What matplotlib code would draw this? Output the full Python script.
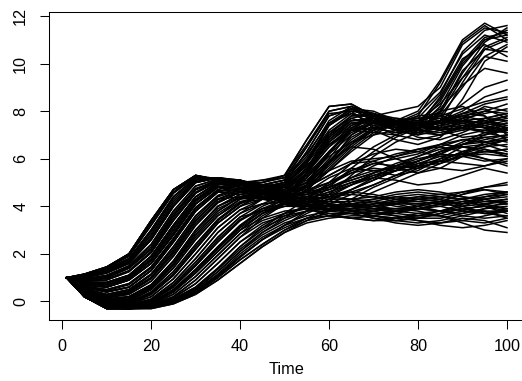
import matplotlib
matplotlib.use('Agg')
import matplotlib.pyplot as plt
import numpy as np

plt.rcParams['font.family'] = ['Liberation Sans', 'DejaVu Sans']

time = [1, 5, 10, 15, 20, 25, 30, 35, 40, 45, 50, 55, 60, 65, 70, 75, 80, 85, 90, 95, 100]

# curves that end high (third jump near t=90)
curves_high = [
    [1, 1.15, 1.45, 2.0, 3.4, 4.7, 5.3, 5.1, 4.9, 5.0, 5.3, 6.8, 8.2, 8.3, 7.8, 8.0, 8.2, 9.0, 10.8, 11.5, 11.3],
    [1, 1.0, 1.2, 1.6, 2.6, 4.0, 5.0, 5.2, 5.1, 4.8, 5.0, 6.3, 7.8, 8.1, 7.6, 7.5, 7.9, 8.8, 10.4, 11.2, 10.9],
    [1, 0.8, 0.8, 1.1, 1.9, 3.2, 4.4, 5.0, 5.1, 4.8, 4.9, 5.8, 7.4, 8.0, 7.9, 7.4, 7.3, 8.2, 9.9, 11.0, 11.4],
    [1, 0.6, 0.4, 0.6, 1.3, 2.5, 3.8, 4.6, 4.9, 4.6, 4.5, 5.3, 6.8, 7.6, 7.7, 7.2, 7.0, 7.6, 9.2, 10.6, 11.0],
    [1, 0.45, 0.1, 0.2, 0.7, 1.7, 3.0, 4.0, 4.5, 4.6, 4.6, 5.0, 6.0, 7.2, 7.8, 7.6, 7.1, 7.3, 8.5, 10.1, 10.7],
    [1, 0.9, 1.0, 1.4, 2.2, 3.6, 4.7, 5.1, 5.0, 4.7, 4.4, 4.6, 5.8, 7.0, 7.6, 7.4, 7.2, 8.0, 9.6, 10.9, 11.5],
    [1, 0.35, -0.1, -0.1, 0.3, 1.1, 2.2, 3.3, 4.0, 4.5, 4.9, 5.7, 6.6, 7.2, 7.1, 7.0, 7.4, 8.6, 10.2, 10.8, 10.3],
    [1, 1.1, 1.35, 1.8, 3.0, 4.4, 5.2, 5.2, 5.0, 5.1, 5.2, 6.5, 7.9, 8.0, 7.3, 7.1, 7.6, 8.3, 9.4, 10.3, 10.1],
    [1, 0.3, -0.2, -0.2, 0.0, 0.6, 1.5, 2.5, 3.4, 4.0, 4.4, 5.2, 6.1, 6.7, 7.0, 7.2, 7.5, 8.1, 9.1, 9.8, 9.6],
    [1, 0.7, 0.6, 0.9, 1.6, 2.8, 4.1, 4.8, 5.0, 5.0, 5.2, 6.2, 7.5, 7.9, 7.5, 7.4, 7.8, 9.2, 10.9, 11.6, 11.0],
    [1, 1.12, 1.4, 1.9, 3.2, 4.55, 5.25, 5.15, 4.95, 5.1, 5.3, 6.6, 8.0, 8.2, 7.7, 7.6, 8.0, 9.3, 11.0, 11.7, 11.2],
    [1, 0.95, 1.1, 1.5, 2.4, 3.8, 4.85, 5.15, 5.05, 4.9, 4.9, 5.9, 7.5, 8.1, 7.8, 7.4, 7.5, 8.5, 10.1, 11.1, 11.3],
    [1, 0.75, 0.7, 1.0, 1.75, 3.0, 4.25, 4.9, 5.05, 4.8, 4.7, 5.5, 7.0, 7.8, 7.9, 7.5, 7.3, 7.9, 9.4, 10.7, 11.1],
    [1, 0.42, 0.05, 0.1, 0.6, 1.55, 2.8, 3.8, 4.4, 4.6, 4.7, 5.3, 6.3, 7.1, 7.5, 7.4, 7.3, 7.8, 9.0, 10.3, 10.8],
    [1, 0.32, -0.12, -0.12, 0.2, 0.95, 2.0, 3.1, 3.85, 4.3, 4.6, 5.4, 6.5, 7.2, 7.3, 7.1, 7.2, 8.0, 9.7, 10.6, 10.5],
    [1, 0.92, 1.05, 1.45, 2.3, 3.7, 4.75, 5.1, 5.0, 4.9, 5.1, 6.1, 7.6, 8.2, 7.9, 7.6, 7.7, 8.7, 10.5, 11.4, 11.6],
    [1, 0.5, 0.18, 0.35, 0.95, 2.0, 3.3, 4.2, 4.6, 4.7, 4.8, 5.5, 6.7, 7.5, 7.6, 7.3, 7.4, 8.4, 10.0, 11.0, 11.2],
]

# curves that settle around 7-8 after the second jump
curves_upper = [
    [1, 1.15, 1.45, 2.0, 3.4, 4.7, 5.3, 5.1, 4.9, 5.0, 5.3, 6.8, 8.2, 8.3, 7.8, 7.6, 7.7, 7.8, 7.6, 7.3, 7.5],
    [1, 1.1, 1.35, 1.8, 3.0, 4.4, 5.2, 5.2, 5.0, 4.8, 5.0, 6.3, 7.8, 8.1, 7.6, 7.2, 7.3, 7.6, 7.9, 7.8, 7.2],
    [1, 1.0, 1.2, 1.6, 2.6, 4.0, 5.0, 5.2, 5.1, 4.9, 4.8, 5.8, 7.4, 8.0, 7.9, 7.4, 7.0, 7.2, 7.6, 8.0, 8.3],
    [1, 0.9, 1.0, 1.4, 2.2, 3.6, 4.7, 5.1, 5.0, 4.6, 4.4, 5.4, 6.9, 7.6, 7.7, 7.3, 6.9, 6.8, 7.1, 7.5, 7.7],
    [1, 0.8, 0.8, 1.1, 1.9, 3.2, 4.4, 5.0, 5.1, 4.8, 4.6, 5.0, 6.2, 7.3, 7.8, 7.6, 7.2, 7.0, 7.2, 7.4, 7.1],
    [1, 0.7, 0.6, 0.9, 1.6, 2.8, 4.1, 4.8, 5.0, 4.7, 4.4, 4.8, 5.9, 6.9, 7.4, 7.5, 7.3, 7.3, 7.5, 7.6, 7.4],
    [1, 0.6, 0.4, 0.6, 1.3, 2.5, 3.8, 4.6, 4.9, 4.6, 4.6, 5.2, 6.3, 7.2, 7.5, 7.2, 7.5, 8.0, 8.2, 7.8, 7.0],
    [1, 0.5, 0.2, 0.4, 1.0, 2.1, 3.4, 4.3, 4.7, 4.9, 5.1, 5.9, 7.1, 7.7, 7.4, 7.0, 6.8, 7.0, 7.4, 7.3, 6.8],
    [1, 0.45, 0.1, 0.2, 0.7, 1.7, 3.0, 4.0, 4.5, 4.6, 4.5, 4.9, 5.7, 6.6, 7.3, 7.6, 7.5, 7.2, 6.9, 7.0, 7.3],
    [1, 0.4, 0.0, 0.0, 0.5, 1.4, 2.6, 3.6, 4.3, 4.7, 4.8, 5.5, 6.6, 7.3, 7.2, 6.8, 6.6, 6.9, 7.7, 8.2, 8.0],
    [1, 0.35, -0.1, -0.1, 0.3, 1.1, 2.2, 3.3, 4.0, 4.5, 4.8, 5.6, 6.9, 7.7, 7.9, 7.7, 7.6, 7.8, 8.1, 8.4, 8.6],
    [1, 0.3, -0.15, -0.15, 0.1, 0.8, 1.8, 2.9, 3.7, 4.3, 4.7, 5.4, 6.5, 7.4, 7.8, 7.5, 7.3, 7.6, 8.3, 9.0, 9.3],
    [1, 0.25, -0.2, -0.25, -0.1, 0.4, 1.2, 2.1, 3.0, 3.7, 4.2, 4.9, 5.9, 6.8, 7.4, 7.7, 7.6, 7.4, 7.3, 7.5, 7.8],
    [1, 0.2, -0.25, -0.25, -0.15, 0.2, 0.9, 1.8, 2.7, 3.5, 4.1, 4.7, 5.5, 6.3, 7.0, 7.5, 7.8, 7.9, 7.7, 7.4, 7.2],
    [1, 0.2, -0.25, -0.3, -0.2, 0.1, 0.6, 1.4, 2.3, 3.1, 3.7, 4.3, 5.0, 5.8, 6.5, 7.0, 7.3, 7.5, 7.8, 8.0, 7.9],
    [1, 1.05, 1.28, 1.7, 2.8, 4.2, 5.1, 5.2, 5.05, 4.9, 5.1, 6.5, 8.0, 8.2, 7.7, 7.4, 7.5, 7.7, 7.8, 7.6, 7.3],
    [1, 0.85, 0.9, 1.25, 2.05, 3.4, 4.55, 5.05, 5.05, 4.8, 4.7, 5.6, 7.1, 7.8, 7.8, 7.4, 7.1, 7.0, 7.3, 7.7, 7.9],
    [1, 0.65, 0.5, 0.75, 1.45, 2.65, 3.95, 4.7, 4.95, 4.7, 4.5, 5.0, 6.3, 7.3, 7.7, 7.6, 7.4, 7.2, 7.3, 7.1, 6.9],
    [1, 0.55, 0.3, 0.5, 1.15, 2.3, 3.6, 4.45, 4.8, 4.7, 4.8, 5.6, 6.8, 7.5, 7.5, 7.2, 7.1, 7.4, 7.9, 8.1, 7.7],
    [1, 0.48, 0.15, 0.3, 0.85, 1.9, 3.2, 4.15, 4.6, 4.7, 4.9, 5.8, 7.0, 7.6, 7.6, 7.3, 7.4, 7.6, 7.6, 7.3, 7.5],
    [1, 0.38, -0.05, -0.05, 0.4, 1.25, 2.4, 3.45, 4.15, 4.5, 4.7, 5.3, 6.3, 7.2, 7.6, 7.6, 7.4, 7.5, 7.9, 8.3, 8.5],
    [1, 0.3, -0.18, -0.18, 0.05, 0.7, 1.65, 2.7, 3.55, 4.1, 4.5, 5.2, 6.2, 7.0, 7.5, 7.6, 7.5, 7.6, 8.0, 8.6, 8.9],
    [1, 0.28, -0.2, -0.22, -0.05, 0.5, 1.35, 2.3, 3.2, 3.9, 4.3, 4.9, 5.8, 6.6, 7.2, 7.5, 7.5, 7.3, 7.2, 7.4, 7.6],
    [1, 0.22, -0.22, -0.25, -0.12, 0.3, 1.05, 1.95, 2.85, 3.6, 4.1, 4.7, 5.5, 6.4, 7.1, 7.5, 7.6, 7.5, 7.3, 7.2, 7.4],
    [1, 0.2, -0.28, -0.3, -0.22, 0.05, 0.5, 1.25, 2.1, 2.9, 3.5, 4.1, 4.8, 5.6, 6.3, 6.9, 7.3, 7.5, 7.6, 7.7, 7.6],
    [1, 1.13, 1.42, 1.95, 3.3, 4.6, 5.3, 5.15, 4.9, 4.8, 5.0, 6.0, 7.4, 8.1, 8.0, 7.6, 7.4, 7.5, 7.7, 7.9, 8.1],
    [1, 0.78, 0.75, 1.05, 1.8, 3.1, 4.3, 4.95, 5.0, 4.8, 4.9, 5.9, 7.2, 7.9, 7.7, 7.3, 7.2, 7.4, 7.6, 7.5, 7.3],
    [1, 0.52, 0.25, 0.45, 1.1, 2.2, 3.5, 4.4, 4.7, 4.8, 5.0, 5.7, 6.7, 7.4, 7.7, 7.6, 7.5, 7.6, 7.4, 7.1, 7.2],
    [1, 0.36, -0.08, -0.08, 0.35, 1.15, 2.3, 3.4, 4.1, 4.5, 4.6, 5.0, 5.8, 6.7, 7.3, 7.4, 7.2, 7.1, 7.3, 7.7, 7.9],
    [1, 0.27, -0.2, -0.23, -0.07, 0.48, 1.3, 2.25, 3.15, 3.8, 4.3, 4.8, 5.6, 6.5, 7.2, 7.6, 7.7, 7.7, 7.5, 7.3, 7.1],
    [1, 0.2, -0.3, -0.3, -0.27, -0.02, 0.38, 1.05, 1.85, 2.6, 3.2, 3.8, 4.5, 5.3, 6.1, 6.7, 7.1, 7.3, 7.4, 7.6, 7.8],
]

# curves that drift slowly upwards
curves_mid = [
    [1, 1.15, 1.45, 2.0, 3.4, 4.7, 5.3, 5.1, 4.8, 4.6, 4.6, 4.8, 5.3, 5.8, 5.9, 5.6, 5.4, 5.6, 6.1, 6.4, 6.1],
    [1, 1.0, 1.2, 1.6, 2.6, 4.0, 5.0, 5.2, 4.9, 4.6, 4.5, 4.6, 4.8, 5.1, 5.4, 5.7, 5.9, 6.2, 6.6, 7.0, 7.2],
    [1, 0.8, 0.8, 1.1, 1.9, 3.2, 4.4, 5.0, 4.8, 4.5, 4.5, 4.9, 5.5, 5.9, 6.0, 6.1, 6.3, 6.6, 6.8, 6.7, 6.5],
    [1, 0.7, 0.6, 0.9, 1.6, 2.8, 4.1, 4.8, 4.7, 4.5, 4.6, 5.1, 5.9, 6.5, 6.4, 6.0, 5.7, 5.8, 6.2, 6.7, 6.9],
    [1, 0.6, 0.4, 0.6, 1.3, 2.5, 3.8, 4.6, 4.6, 4.4, 4.2, 4.4, 4.9, 5.5, 5.9, 6.2, 6.4, 6.5, 6.3, 6.0, 5.8],
    [1, 0.5, 0.2, 0.4, 1.0, 2.1, 3.4, 4.3, 4.6, 4.5, 4.4, 4.6, 5.2, 5.6, 5.5, 5.3, 5.5, 6.0, 6.5, 6.6, 6.3],
    [1, 0.4, 0.0, 0.0, 0.5, 1.4, 2.6, 3.6, 4.2, 4.4, 4.3, 4.2, 4.4, 4.9, 5.4, 5.8, 6.1, 6.5, 6.8, 6.9, 6.7],
    [1, 0.3, -0.15, -0.15, 0.1, 0.8, 1.8, 2.9, 3.7, 4.1, 4.2, 4.3, 4.6, 5.0, 5.2, 5.1, 4.9, 5.0, 5.3, 5.6, 5.4],
    [1, 0.25, -0.2, -0.25, -0.1, 0.4, 1.2, 2.1, 3.0, 3.7, 4.1, 4.2, 4.4, 4.7, 5.1, 5.5, 5.8, 5.9, 5.8, 5.7, 5.9],
    [1, 0.2, -0.3, -0.3, -0.25, 0.0, 0.4, 1.1, 1.9, 2.6, 3.2, 3.7, 4.1, 4.5, 4.9, 5.3, 5.7, 6.0, 6.2, 6.3, 6.4],
    [1, 0.2, -0.3, -0.3, -0.3, -0.1, 0.3, 0.9, 1.6, 2.3, 2.9, 3.4, 3.8, 4.2, 4.6, 5.0, 5.4, 5.8, 6.1, 6.3, 6.4],
    [1, 0.2, -0.25, -0.3, -0.2, 0.1, 0.6, 1.4, 2.3, 3.0, 3.6, 4.0, 4.3, 4.6, 4.9, 5.3, 5.7, 6.2, 6.6, 6.9, 7.0],
    [1, 1.12, 1.4, 1.9, 3.2, 4.55, 5.25, 5.15, 4.95, 4.7, 4.6, 4.7, 5.0, 5.4, 5.6, 5.5, 5.6, 5.9, 6.3, 6.6, 6.8],
    [1, 0.85, 0.9, 1.25, 2.05, 3.4, 4.55, 5.05, 5.05, 4.7, 4.5, 4.5, 4.8, 5.2, 5.5, 5.6, 5.9, 6.3, 6.5, 6.4, 6.2],
    [1, 0.65, 0.5, 0.75, 1.45, 2.65, 3.95, 4.7, 4.95, 4.6, 4.4, 4.6, 5.0, 5.5, 5.8, 5.7, 5.6, 5.9, 6.3, 6.5, 6.6],
    [1, 0.42, 0.05, 0.1, 0.6, 1.55, 2.8, 3.8, 4.4, 4.5, 4.4, 4.5, 4.8, 5.1, 5.4, 5.7, 6.0, 6.2, 6.1, 5.9, 6.0],
    [1, 0.28, -0.2, -0.22, -0.05, 0.5, 1.35, 2.3, 3.2, 3.8, 4.1, 4.3, 4.6, 4.9, 5.2, 5.5, 5.9, 6.3, 6.6, 6.8, 7.0],
    [1, 0.2, -0.25, -0.28, -0.18, 0.15, 0.75, 1.6, 2.5, 3.2, 3.7, 4.0, 4.3, 4.7, 5.1, 5.5, 5.9, 6.3, 6.7, 7.1, 7.3],
    [1, 0.2, -0.3, -0.3, -0.28, -0.05, 0.35, 1.0, 1.75, 2.4, 3.0, 3.5, 3.9, 4.3, 4.8, 5.2, 5.6, 5.9, 6.1, 6.2, 6.1],
    [1, 1.08, 1.32, 1.75, 2.9, 4.3, 5.15, 5.2, 5.0, 4.7, 4.5, 4.5, 4.7, 5.0, 5.3, 5.5, 5.8, 6.1, 6.2, 6.0, 5.7],
    [1, 0.88, 0.95, 1.3, 2.1, 3.5, 4.6, 5.1, 4.9, 4.6, 4.4, 4.5, 4.9, 5.4, 5.8, 6.0, 6.2, 6.6, 7.0, 7.2, 7.1],
    [1, 0.62, 0.45, 0.7, 1.4, 2.6, 3.9, 4.65, 4.7, 4.5, 4.5, 4.8, 5.3, 5.8, 6.2, 6.4, 6.3, 6.1, 6.2, 6.5, 6.8],
    [1, 0.4, 0.02, 0.05, 0.55, 1.5, 2.7, 3.7, 4.3, 4.4, 4.3, 4.4, 4.7, 5.2, 5.7, 6.1, 6.4, 6.6, 6.5, 6.3, 6.2],
    [1, 0.26, -0.2, -0.24, -0.08, 0.45, 1.3, 2.2, 3.1, 3.7, 4.0, 4.2, 4.5, 4.9, 5.3, 5.6, 5.7, 5.6, 5.5, 5.7, 6.0],
    [1, 0.2, -0.27, -0.29, -0.2, 0.08, 0.55, 1.35, 2.2, 2.9, 3.4, 3.8, 4.2, 4.7, 5.2, 5.7, 6.1, 6.4, 6.6, 6.7, 6.8],
]

# curves that stay near 4
curves_low = [
    [1, 1.15, 1.45, 2.0, 3.4, 4.7, 5.3, 5.1, 4.8, 4.6, 4.5, 4.3, 4.2, 4.2, 4.3, 4.4, 4.3, 4.2, 4.1, 4.2, 4.3],
    [1, 1.1, 1.35, 1.8, 3.0, 4.4, 5.2, 5.2, 4.9, 4.6, 4.3, 4.1, 4.0, 4.1, 4.2, 4.1, 3.9, 3.8, 3.9, 4.0, 4.1],
    [1, 1.0, 1.2, 1.6, 2.6, 4.0, 5.0, 5.2, 5.0, 4.9, 4.8, 4.6, 4.4, 4.3, 4.4, 4.6, 4.7, 4.6, 4.4, 4.3, 4.4],
    [1, 0.9, 1.0, 1.4, 2.2, 3.6, 4.7, 5.1, 4.8, 4.4, 4.2, 4.0, 3.9, 4.0, 4.2, 4.4, 4.5, 4.4, 4.3, 4.4, 4.6],
    [1, 0.8, 0.8, 1.1, 1.9, 3.2, 4.4, 5.0, 4.8, 4.6, 4.4, 4.3, 4.4, 4.5, 4.4, 4.2, 4.1, 4.2, 4.5, 4.8, 5.0],
    [1, 0.7, 0.6, 0.9, 1.6, 2.8, 4.1, 4.8, 4.6, 4.4, 4.2, 4.1, 4.0, 3.8, 3.7, 3.8, 4.0, 4.2, 4.3, 4.1, 3.9],
    [1, 0.6, 0.4, 0.6, 1.3, 2.5, 3.8, 4.6, 4.5, 4.3, 4.3, 4.2, 4.1, 4.0, 4.1, 4.3, 4.4, 4.3, 4.0, 3.7, 3.6],
    [1, 0.5, 0.2, 0.4, 1.0, 2.1, 3.4, 4.3, 4.4, 4.3, 4.1, 3.9, 3.7, 3.5, 3.4, 3.5, 3.7, 3.6, 3.3, 3.0, 2.9],
    [1, 0.45, 0.1, 0.2, 0.7, 1.7, 3.0, 4.0, 4.4, 4.4, 4.3, 4.0, 3.8, 3.9, 4.1, 4.2, 4.0, 3.8, 3.7, 3.9, 4.2],
    [1, 0.35, -0.1, -0.1, 0.3, 1.1, 2.2, 3.3, 4.0, 4.3, 4.3, 4.2, 4.1, 4.0, 3.9, 3.8, 3.7, 3.8, 4.0, 4.3, 4.5],
    [1, 0.3, -0.2, -0.2, 0.0, 0.6, 1.5, 2.5, 3.4, 3.9, 4.1, 4.1, 4.0, 3.8, 3.6, 3.5, 3.6, 3.8, 4.1, 4.4, 4.5],
    [1, 0.25, -0.2, -0.25, -0.1, 0.4, 1.2, 2.1, 3.0, 3.5, 3.8, 3.9, 3.9, 3.9, 4.0, 4.2, 4.4, 4.5, 4.4, 4.2, 4.2],
    [1, 0.2, -0.25, -0.25, -0.15, 0.2, 0.9, 1.8, 2.7, 3.3, 3.6, 3.8, 3.9, 3.8, 3.6, 3.4, 3.3, 3.4, 3.6, 3.8, 3.8],
    [1, 0.2, -0.3, -0.3, -0.3, -0.1, 0.3, 0.9, 1.6, 2.3, 2.9, 3.3, 3.5, 3.6, 3.6, 3.5, 3.4, 3.3, 3.4, 3.6, 3.8],
    [1, 0.2, -0.3, -0.3, -0.25, 0.0, 0.4, 1.1, 1.9, 2.6, 3.1, 3.5, 3.7, 3.7, 3.5, 3.3, 3.2, 3.3, 3.5, 3.4, 3.1],
    [1, 1.05, 1.28, 1.7, 2.8, 4.2, 5.1, 5.2, 5.05, 4.8, 4.5, 4.3, 4.1, 4.0, 4.1, 4.2, 4.2, 4.1, 4.0, 4.1, 4.2],
    [1, 0.95, 1.1, 1.5, 2.4, 3.8, 4.85, 5.15, 5.05, 4.8, 4.6, 4.4, 4.3, 4.3, 4.2, 4.0, 3.9, 4.0, 4.2, 4.3, 4.1],
    [1, 0.75, 0.7, 1.0, 1.75, 3.0, 4.25, 4.9, 5.05, 4.8, 4.5, 4.2, 4.0, 3.9, 4.0, 4.2, 4.3, 4.2, 3.9, 3.7, 3.8],
    [1, 0.55, 0.3, 0.5, 1.15, 2.3, 3.6, 4.45, 4.8, 4.5, 4.3, 4.1, 4.0, 4.1, 4.3, 4.5, 4.6, 4.5, 4.6, 4.8, 4.9],
    [1, 0.48, 0.15, 0.3, 0.85, 1.9, 3.2, 4.15, 4.6, 4.4, 4.2, 4.0, 3.8, 3.7, 3.8, 3.9, 3.8, 3.6, 3.4, 3.3, 3.5],
    [1, 0.38, -0.05, -0.05, 0.4, 1.25, 2.4, 3.45, 4.15, 4.3, 4.3, 4.1, 3.9, 3.8, 3.9, 4.1, 4.3, 4.4, 4.3, 4.0, 3.8],
    [1, 0.32, -0.12, -0.12, 0.2, 0.95, 2.0, 3.1, 3.85, 4.1, 4.2, 4.2, 4.1, 4.0, 3.9, 3.9, 4.0, 4.2, 4.5, 4.7, 4.6],
    [1, 0.3, -0.18, -0.18, 0.05, 0.7, 1.65, 2.7, 3.55, 3.8, 4.0, 4.0, 3.9, 3.7, 3.5, 3.4, 3.5, 3.7, 3.9, 4.0, 3.9],
    [1, 0.22, -0.22, -0.25, -0.12, 0.3, 1.05, 1.95, 2.85, 3.4, 3.7, 3.9, 4.0, 4.0, 3.9, 3.7, 3.6, 3.6, 3.8, 4.1, 4.3],
    [1, 0.2, -0.25, -0.28, -0.18, 0.15, 0.75, 1.6, 2.5, 3.1, 3.5, 3.8, 3.9, 3.8, 3.7, 3.7, 3.9, 4.1, 4.2, 4.0, 3.7],
    [1, 0.2, -0.28, -0.3, -0.22, 0.05, 0.5, 1.25, 2.1, 2.8, 3.3, 3.6, 3.8, 3.9, 3.8, 3.6, 3.4, 3.2, 3.1, 3.2, 3.4],
    [1, 0.2, -0.3, -0.3, -0.28, -0.05, 0.35, 1.0, 1.75, 2.4, 3.0, 3.4, 3.6, 3.7, 3.7, 3.6, 3.5, 3.5, 3.7, 3.9, 4.0],
    [1, 1.02, 1.25, 1.65, 2.7, 4.1, 5.05, 5.2, 5.0, 4.7, 4.5, 4.4, 4.5, 4.6, 4.5, 4.3, 4.2, 4.3, 4.6, 4.7, 4.5],
    [1, 0.72, 0.65, 0.95, 1.7, 2.9, 4.2, 4.85, 4.75, 4.5, 4.3, 4.2, 4.2, 4.1, 4.0, 3.9, 3.9, 4.1, 4.3, 4.5, 4.6],
    [1, 0.44, 0.08, 0.15, 0.65, 1.6, 2.9, 3.9, 4.35, 4.4, 4.2, 3.9, 3.6, 3.5, 3.6, 3.8, 3.9, 3.8, 3.6, 3.5, 3.6],
    [1, 0.29, -0.19, -0.2, 0.02, 0.65, 1.55, 2.6, 3.45, 3.9, 4.1, 4.0, 3.9, 3.9, 4.0, 4.1, 4.1, 4.0, 3.8, 3.7, 3.9],
    [1, 0.2, -0.29, -0.3, -0.24, 0.02, 0.45, 1.15, 2.0, 2.7, 3.2, 3.5, 3.6, 3.5, 3.4, 3.4, 3.5, 3.7, 3.9, 3.8, 3.5],
]

fig = plt.figure(figsize=(5.22, 3.81), dpi=100)
# right edge of the box lies just outside the picture, as in the original
ax = fig.add_axes([0.0939, 0.1601, 0.911, 0.8084])

for group in (curves_high, curves_upper, curves_mid, curves_low):
    for row in group:
        ax.plot(time, row, color='black', lw=1.1)

ax.set_xlim(-2.96, 103.96)
ax.set_ylim(-0.78, 12.17)
ax.set_xticks([0, 20, 40, 60, 80, 100])
ax.set_yticks([0, 2, 4, 6, 8, 10, 12])
ax.tick_params(direction='out', length=6.5, width=0.75, labelsize=11.7)
ax.tick_params(axis='x', pad=7)
ax.tick_params(axis='y', pad=8.5)
for lab in ax.get_yticklabels():
    lab.set_rotation(90)
    lab.set_va('center')
for s in ax.spines.values():
    s.set_linewidth(0.75)

ax.set_xlabel('Time', fontsize=11.7, labelpad=6)

fig.savefig('out.png', dpi=100)
